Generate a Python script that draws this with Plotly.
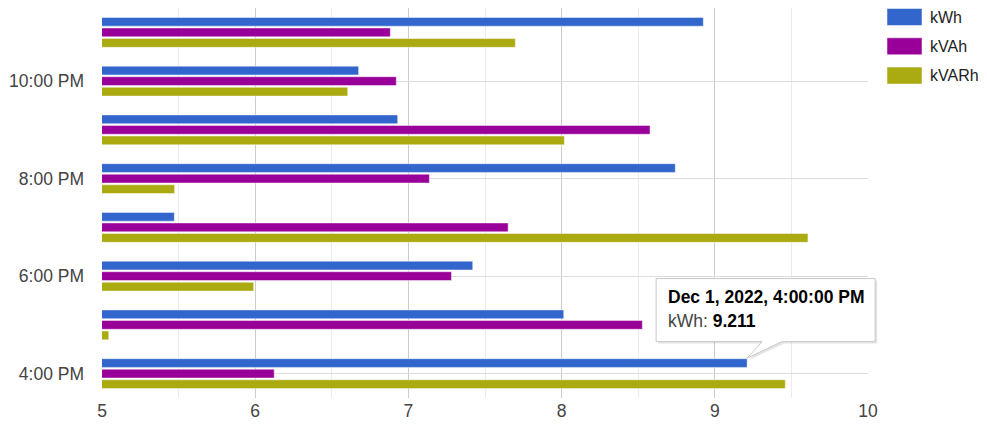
import plotly.graph_objects as go

hours = [16, 17, 18, 19, 20, 21, 22, 23]
kwh = [9.211, 8.014, 7.420, 5.472, 8.742, 6.930, 6.675, 8.925]
kvah = [6.124, 8.527, 7.281, 7.651, 7.137, 8.577, 6.921, 6.882]
kvarh = [9.460, 5.044, 5.990, 9.608, 5.474, 8.018, 6.604, 7.698]

series_names = ["kWh", "kVAh", "kVARh"]
series_colors = ["#3366cc", "#990099", "#aaaa11"]

tick_vals = [16, 18, 20, 22]
tick_text = ["4:00 PM", "6:00 PM", "8:00 PM", "10:00 PM"]
x_ticks = [5, 6, 7, 8, 9, 10]
x_range = [5, 10]
y_range = [15.5, 23.5]

tip_title = "Dec 1, 2022, 4:00:00 PM"
tip_series = "kWh"
tip_value = 9.211
tip_hour = 16

FONT = "Liberation Sans, Arial, sans-serif"
FS = 17.5
OFF = 8  # page body margin
W, H = 987 - 2 * OFF, 431 - 2 * OFF
ML, MT = 102 - OFF, 0
PW, PH = 766, 390
MR, MB = W - ML - PW, H - MT - PH


def px_x(px):
    return (px - OFF - ML) / PW


def px_y(py):
    return 1 - (py - OFF - MT) / PH


fig = go.Figure()
series_vals = [kwh, kvah, kvarh]
# plotly stacks horizontal groups bottom-up, so add in reverse order
for name, vals, col in reversed(list(zip(series_names, series_vals, series_colors))):
    fig.add_trace(go.Bar(
        y=hours, x=vals, name=name, orientation="h",
        marker=dict(color=col, line=dict(color="rgba(255,255,255,0.45)", width=1)),
    ))

fig.update_layout(
    barmode="group", bargap=0.35, bargroupgap=0.17,
    width=W, height=H,
    margin=dict(l=ML, r=MR, t=MT, b=MB),
    plot_bgcolor="white", paper_bgcolor="white",
    font=dict(family=FONT, size=FS, color="#444444"),
    showlegend=False,
    xaxis=dict(range=x_range, tickvals=x_ticks, showgrid=True, gridcolor="#cccccc",
               gridwidth=1, zeroline=False, showline=False, ticks="", automargin=False,
               minor=dict(dtick=0.5, showgrid=True, gridcolor="#ebebeb"),
               tickfont=dict(size=FS, color="#444444")),
    yaxis=dict(range=y_range, tickvals=tick_vals, ticktext=tick_text, showgrid=True,
               gridcolor="#dddddd", zeroline=False, showline=False, ticks="", automargin=False,
               ticklabelstandoff=17, tickfont=dict(size=FS, color="#444444")),
)

# legend drawn as boxes + labels to the right of the plot
for i, (name, col) in enumerate(zip(series_names, series_colors)):
    top = 8.5 + i * 29.3
    fig.add_shape(type="rect", xref="paper", yref="paper",
                  x0=px_x(887), x1=px_x(922), y0=px_y(top + 17), y1=px_y(top),
                  fillcolor=col, line=dict(color="rgba(255,255,255,0.5)", width=1))
    fig.add_annotation(xref="paper", yref="paper", x=px_x(928), y=px_y(top + 8.5),
                       xanchor="left", yanchor="middle", showarrow=False, text=name,
                       font=dict(size=16, color="#222222", family=FONT))

# tooltip callout anchored at the bar's end (pixel-sized path, paper ref so it isn't clipped)
ax = (tip_value - x_range[0]) / (x_range[1] - x_range[0])
ay = (tip_hour + 0.216 - y_range[0]) / (y_range[1] - y_range[0])
callout = "M -91,21.5 L 15,21.5 L 0,5 L 35,21.5 L 128,21.5 L 128,84.5 L -91,84.5 Z"
shadow = "M -89,19.5 L 17,19.5 L 2,3 L 37,19.5 L 130,19.5 L 130,82.5 L -89,82.5 Z"
for path, fill, line in [(shadow, "rgba(0,0,0,0.10)", "rgba(0,0,0,0)"), (callout, "white", "#c8c8c8")]:
    fig.add_shape(type="path", xref="paper", yref="paper", xsizemode="pixel", ysizemode="pixel",
                  xanchor=ax, yanchor=ay, path=path,
                  fillcolor=fill, line=dict(color=line, width=1), layer="above")

fig.add_annotation(x=ax, y=ay, xref="paper", yref="paper", showarrow=False,
                   xanchor="left", yanchor="middle", xshift=-81, yshift=66,
                   text=f"<b>{tip_title}</b>", font=dict(size=FS, color="#000000", family=FONT))
fig.add_annotation(x=ax, y=ay, xref="paper", yref="paper", showarrow=False,
                   xanchor="left", yanchor="middle", xshift=-81, yshift=42,
                   text=f"<span style='color:#444444'>{tip_series}:</span> <b>{tip_value}</b>",
                   font=dict(size=FS, color="#000000", family=FONT))

fig.write_html("out.html")
